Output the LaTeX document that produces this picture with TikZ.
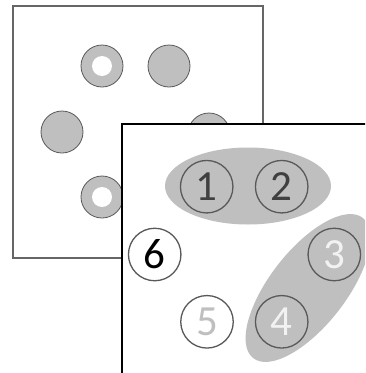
\documentclass[tikz,border=0pt]{standalone}
\usepackage{fontspec}
\setmainfont{Carlito}
\definecolor{fillg}{HTML}{BFBFBF}
\definecolor{edgeg}{HTML}{595959}
\definecolor{backedge}{HTML}{666666}
\definecolor{darktxt}{HTML}{404040}
\definecolor{lighttxt}{HTML}{F2F2F2}
\begin{document}
\begin{tikzpicture}[x=1pt,y=-1pt,
  backdisk/.style={circle,draw=edgeg,line width=0.8pt,fill=fillg,minimum size=42pt,inner sep=0pt},
  hole/.style={circle,fill=white,minimum size=20pt,inner sep=0pt},
  numdisk/.style={circle,draw=edgeg,line width=1.3pt,minimum size=52.5pt,inner sep=0pt,font=\fontsize{43}{43}\selectfont},
  group/.style={ellipse,fill=fillg,inner sep=0pt}]
\useasboundingbox (0,0) rectangle (365,373);
\clip (0,0) rectangle (365,373);
% back square
\node[draw=backedge,line width=1.8pt,fill=white,minimum width=250pt,minimum height=252pt,inner sep=0pt,anchor=north west] (back) at (11.7,5) {};
\node[backdisk] (b1) at (102,66) {};
\node[hole] (h1) at (102,66) {};
\node[backdisk] (b2) at (169,66) {};
\node[backdisk] (b3) at (62,132) {};
\node[backdisk] (b4) at (209,134) {};
\node[backdisk] (b5) at (102,197) {};
\node[hole] (h5) at (102,197) {};
% front square
\node[draw=black,line width=1.8pt,fill=white,minimum width=300pt,minimum height=300pt,inner sep=0pt,anchor=north west] (front) at (120.7,123.3) {};
% groups
\fill[fillg] (248,186) ellipse [x radius=83, y radius=38.5];
\fill[fillg,rotate around={52:(308,288)}] (308,288) ellipse [x radius=89, y radius=38];
\coordinate (g12) at (248,186);
\coordinate (g34) at (308,288);
% numbered disks
\node[numdisk,fill=fillg,text=darktxt] (n1) at (206.7,186.7) {1};
\node[numdisk,fill=fillg,text=darktxt] (n2) at (281.7,186.7) {2};
\node[numdisk,fill=fillg,text=lighttxt] (n3) at (334.3,254.5) {3};
\node[numdisk,fill=fillg,text=lighttxt] (n4) at (281.7,321.8) {4};
\node[numdisk,fill=white,text=fillg] (n5) at (207,321.8) {5};
\node[numdisk,fill=white,text=black] (n6) at (154.7,254.5) {6};
\end{tikzpicture}
\end{document}
